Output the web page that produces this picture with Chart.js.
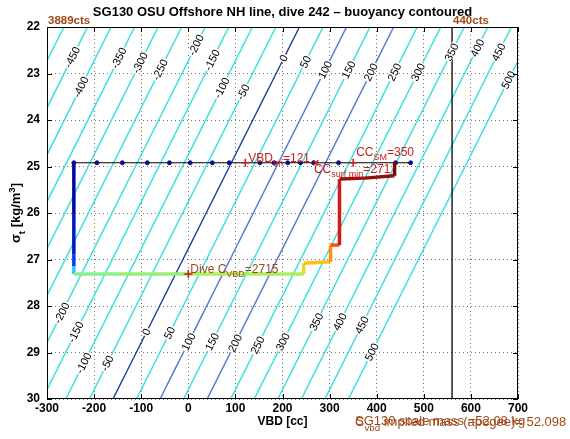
<!DOCTYPE html>
<html><head><meta charset="utf-8">
<script src="https://cdn.jsdelivr.net/npm/chart.js@4/dist/chart.umd.min.js"></script>
<style>html,body{margin:0;padding:0;background:#fff}#wrap{width:570px;height:439px;position:relative}</style>
</head><body><div id="wrap"><canvas id="c" width="570" height="439"></canvas></div>
<script>
// ---- data ----
const xTickValues = [-300,-200,-100,0,100,200,300,400,500,600,700];
const yTickValues = [22,23,24,25,26,27,28,29,30];

// buoyancy contour levels [g] and where each line meets sigma=30 and sigma=22 [cc]
const contourLevels      = [-500,-450,-400,-350,-300,-250,-200,-150,-100,-50,0,50,100,150,200,250,300,350,400,450,500];
const contourVBDsigma30  = [-660,-610,-560,-510,-460,-410,-360,-310,-260,-210,-160,-110,-60,-10,40,90,140,190,240,290,340];
const contourVBDsigma22  = [-264,-214,-164,-114,-64,-14,36,86,136,186,236,286,336,386,436,486,536,586,636,686,736];

// contour labels (level, sigma where the label sits)
const topLabelLevels = [-450,-400,-350,-300,-250,-200,-150,-100,-50,0,50,100,150,200,250,300,350,400,450,500];
const topLabelSigma  = [22.65,23.29,22.67,22.77,22.92,22.39,22.71,23.31,23.40,22.67,22.75,22.92,22.92,22.97,22.97,22.97,22.54,22.45,22.54,23.14];
const botLabelLevels = [-200,-150,-100,-50,0,50,100,150,200,250,300,350,400,450,500];
const botLabelSigma  = [28.15,28.56,29.23,29.23,28.56,28.58,28.77,28.77,28.80,28.84,28.77,28.34,28.34,28.41,28.99];

// surface (black line with markers)
const surfVBD   = [-243,-194,-140,-87,-40,4,51,87,152,182,211,238,266,319,440,472];
const surfSigma = [24.92,24.92,24.92,24.92,24.92,24.92,24.92,24.92,24.92,24.92,24.92,24.92,24.92,24.92,24.92,24.92];

// dive trace
const diveVBD   = [-243,-243,-243,-243,-243,-150,0,245,245,302,302,321,321,375,436,438,438];
const diveSigma = [24.92,26.0,26.9,27.15,27.31,27.31,27.31,27.31,27.08,27.05,26.69,26.69,25.27,25.25,25.2,25.2,24.9];

// markers
const vbdTm = 121, ccSurfMin = 271, ccSM = 350, diveCvbdVBD = 0;
const surfSigmaLevel = 24.92, diveCvbdSigma = 27.31;
const ctsLineVBD = 560;

// ---- styles ----
const segColors = ['#0008a0','#0018c0','#0040f0','#20c8ff','#88f090','#98ee78','#a8f060','#e0e020','#ffc010','#ff9010','#ff5010','#d81818','#a01010','#901010','#800a0a','#7a0808'];
const FONT = '"Liberation Sans", Arial, Helvetica, sans-serif';
const RED = '#c81c1c', BROWN = '#a04818';

function contourColor(l){ if(l===0) return '#1c3ca0'; if(l===100||l===200) return '#5a78d8'; return '#3ce0e0'; }

const datasets = [];
datasets.push({label:'dive', data: diveVBD.map((v,i)=>({x:v,y:diveSigma[i]})), showLine:true, pointRadius:0,
  borderWidth:3.5, borderColor:'#0020c8', segment:{borderColor: c => segColors[c.p0DataIndex]}, order:1});
datasets.push({label:'surf', data: surfVBD.map((v,i)=>({x:v,y:surfSigma[i]})), showLine:true, borderColor:'#000', borderWidth:1,
  pointRadius:2, pointBackgroundColor:'#101080', pointBorderColor:'#101080', order:2});
datasets.push({label:'plus', data:[{x:vbdTm,y:surfSigmaLevel},{x:ccSM,y:surfSigmaLevel},{x:diveCvbdVBD,y:diveCvbdSigma}], showLine:false,
  pointStyle:'cross', pointRadius:4, borderColor:RED, pointBorderWidth:1.5, order:0});
datasets.push({label:'x', data:[{x:ccSurfMin,y:surfSigmaLevel}], showLine:false,
  pointStyle:'crossRot', pointRadius:3.5, borderColor:RED, pointBorderWidth:1.5, order:0});
datasets.push({label:'cts', data:[{x:ctsLineVBD,y:22},{x:ctsLineVBD,y:30}], showLine:true, pointRadius:0, borderColor:'#000', borderWidth:1.3, order:3});
contourLevels.forEach((l,i)=>{
  datasets.push({label:'c'+l, data:[{x:contourVBDsigma30[i],y:30},{x:contourVBDsigma22[i],y:22}], showLine:true, pointRadius:0,
    borderColor: contourColor(l), borderWidth: l===0?1.4:1.5, order:10});
});

function rich(ctx, x, y, parts, size, color, weight){
  ctx.fillStyle = color; ctx.textAlign='left'; ctx.textBaseline='alphabetic';
  let cx = x;
  for(const p of parts){
    const fs = (p.sub||p.sup) ? size*0.75 : size;
    ctx.font = `${weight||'normal'} ${fs}px ${FONT}`;
    const dy = p.sub ? size*0.38 : (p.sup ? -size*0.42 : 0);
    ctx.fillText(p.t, cx, y+dy);
    cx += ctx.measureText(p.t).width;
  }
  return cx - x;
}
function richWidth(ctx, parts, size, weight){
  let w=0; for(const p of parts){ const fs=(p.sub||p.sup)?size*0.75:size; ctx.font=`${weight||'normal'} ${fs}px ${FONT}`; w+=ctx.measureText(p.t).width;} return w;
}

const overlay = {
  id:'overlay',
  afterDatasetsDraw(chart){
    const ctx = chart.ctx, a = chart.chartArea, xs = chart.scales.x, ys = chart.scales.y;
    ctx.save();
    const ang = Math.atan2(ys.getPixelForValue(22)-ys.getPixelForValue(30), xs.getPixelForValue(contourVBDsigma22[0])-xs.getPixelForValue(contourVBDsigma30[0]));
    function clab(level, s){
      const i = contourLevels.indexOf(level);
      const v = contourVBDsigma22[i] + (s-22)*(contourVBDsigma30[i]-contourVBDsigma22[i])/8;
      const px = xs.getPixelForValue(v), py = ys.getPixelForValue(s);
      ctx.save(); ctx.translate(px,py); ctx.rotate(ang);
      ctx.font = `11px ${FONT}`; const t = String(level); const w = ctx.measureText(t).width;
      ctx.fillStyle='#fff'; ctx.fillRect(-w/2-1,-4,w+2,8);
      ctx.fillStyle='#000'; ctx.textAlign='center'; ctx.textBaseline='middle'; ctx.fillText(t,0,0.5);
      ctx.restore();
    }
    ctx.save(); ctx.beginPath(); ctx.rect(a.left,a.top,a.right-a.left,a.bottom-a.top); ctx.clip();
    topLabelLevels.forEach((l,i)=>clab(l, topLabelSigma[i]));
    botLabelLevels.forEach((l,i)=>clab(l, botLabelSigma[i]));
    ctx.restore();
    ctx.strokeStyle='#000'; ctx.lineWidth=1;
    ctx.strokeRect(a.left+0.5,a.top+0.5,a.right-a.left-1,a.bottom-a.top-1);
    ctx.beginPath();
    xTickValues.forEach(v=>{const p=Math.round(xs.getPixelForValue(v))+0.5; ctx.moveTo(p,a.bottom); ctx.lineTo(p,a.bottom-5); ctx.moveTo(p,a.top); ctx.lineTo(p,a.top+5);});
    yTickValues.forEach(v=>{const p=Math.round(ys.getPixelForValue(v))+0.5; ctx.moveTo(a.left,p); ctx.lineTo(a.left+5,p); ctx.moveTo(a.right,p); ctx.lineTo(a.right-5,p);});
    ctx.stroke();
    const sx = v=>xs.getPixelForValue(v), sy = v=>ys.getPixelForValue(v);
    rich(ctx, sx(vbdTm)+3, sy(surfSigmaLevel)-1, [{t:'VBD'},{t:'tm',sub:true},{t:'=121'}], 12, RED);
    rich(ctx, sx(ccSurfMin)-2, sy(surfSigmaLevel)+10, [{t:'CC'},{t:'surf min',sub:true},{t:'=271'}], 12, RED);
    rich(ctx, sx(ccSM)+3, sy(surfSigmaLevel)-7, [{t:'CC'},{t:'SM',sub:true},{t:'=350'}], 12, RED);
    rich(ctx, sx(diveCvbdVBD)+2, sy(diveCvbdSigma)-1, [{t:'Dive C'},{t:'VBD',sub:true},{t:'=2715'}], 12, BROWN);
    rich(ctx, sx(-300)+1, a.top-3, [{t:'3889cts'}], 11.5, BROWN, 'bold');
    rich(ctx, sx(ctsLineVBD)+1, a.top-3, [{t:'440cts'}], 11.5, BROWN, 'bold');
    ctx.fillStyle='#000'; ctx.font=`bold 13px ${FONT}`; ctx.textAlign='center'; ctx.textBaseline='middle';
    ctx.fillText('SG130 OSU Offshore NH line, dive 242 \u2013 buoyancy contoured', (a.left+a.right)/2, 12);
    ctx.save(); ctx.translate(16,(a.top+a.bottom)/2); ctx.rotate(-Math.PI/2);
    const yparts=[{t:'\u03c3'},{t:'t',sub:true},{t:' [kg/m'},{t:'3',sup:true},{t:']'}];
    const yw = richWidth(ctx,yparts,13,'bold');
    rich(ctx,-yw/2,4,yparts,13,'#000','bold');
    ctx.restore();
    rich(ctx, 355, 425, [{t:'SG130 scale mass =52.08 kg'}], 13, BROWN);
    rich(ctx, 355, 426, [{t:'C'},{t:'vbd',sub:true},{t:' implied mass (apogee)= 52.098 kg'}], 13, BROWN);
    ctx.restore();
  }
};

new Chart(document.getElementById('c'), {
  type:'scatter',
  data:{datasets},
  options:{
    responsive:false, animation:false, devicePixelRatio:1,
    layout:{padding:{top:27,right:52,left:0,bottom:0}},
    plugins:{legend:{display:false}, tooltip:{enabled:false}, title:{display:false}},
    scales:{
      x:{type:'linear', min:-300, max:700, afterFit:s=>{s.height=40;},
        afterBuildTicks:s=>{s.ticks = xTickValues.map(v=>({value:v}));},
        ticks:{color:'#000', font:{family:FONT,size:12,weight:'bold'}, padding:2, maxRotation:0, autoSkip:false},
        grid:{color:'rgba(0,0,0,0.55)', lineWidth:1, drawTicks:false},
        border:{display:false, dash:[1,3]},
        title:{display:true, text:'VBD [cc]', color:'#000', font:{family:FONT,size:12,weight:'bold'}, padding:{top:0,bottom:10}}},
      y:{type:'linear', min:22, max:30, reverse:true, afterFit:s=>{s.width=47;},
        afterBuildTicks:s=>{s.ticks = yTickValues.map(v=>({value:v}));},
        ticks:{color:'#000', font:{family:FONT,size:12,weight:'bold'}, padding:7, autoSkip:false},
        grid:{color:'rgba(0,0,0,0.55)', lineWidth:1, drawTicks:false},
        border:{display:false, dash:[1,3]}}
    }
  },
  plugins:[overlay]
});
</script></body></html>
